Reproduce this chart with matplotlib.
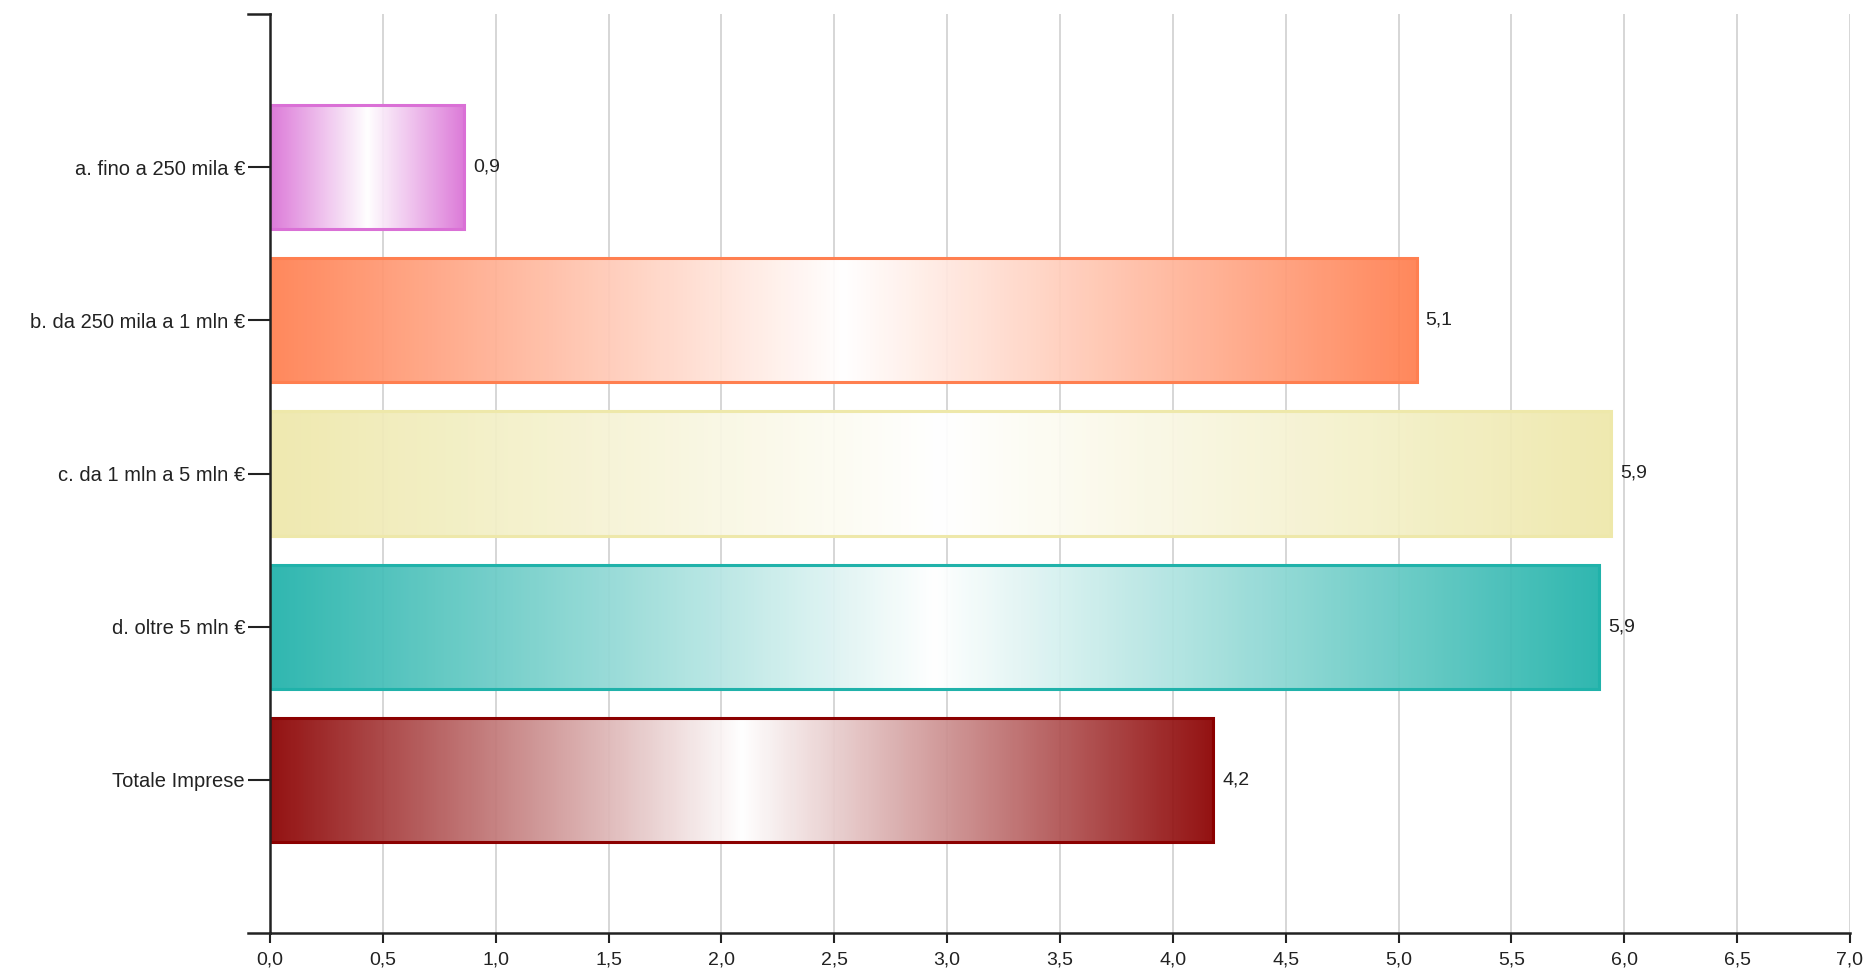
import numpy as np
import matplotlib
matplotlib.use("Agg")
import matplotlib.pyplot as plt
from matplotlib.colors import to_rgb
from matplotlib.lines import Line2D
from matplotlib.ticker import FuncFormatter, MultipleLocator

plt.rcParams['font.family'] = ['Liberation Sans', 'DejaVu Sans']

categorie = ["a. fino a 250 mila €", "b. da 250 mila a 1 mln €", "c. da 1 mln a 5 mln €",
             "d. oltre 5 mln €", "Totale Imprese"]
valori = [0.86, 5.08, 5.94, 5.89, 4.18]
colori = ["#DA70D6", "#FF7F50", "#EEE8AA", "#20B2AA", "#8B0000"]

W, H = 1868, 974
fig = plt.figure(figsize=(W / 100, H / 100), dpi=100)
x0, x1 = 270 / W, 1850 / W
y0, y1 = (H - 933) / H, (H - 14) / H
ax = fig.add_axes([x0, y0, x1 - x0, y1 - y0])

pos = np.arange(1, len(categorie) + 1)
alto = 0.81

def virgola(v, _=None):
    return f"{v:.1f}".replace(".", ",")

for p, v, c in zip(pos, valori, colori):
    rgb = np.array(to_rgb(c))
    t = np.abs(np.linspace(-1, 1, 400))
    grad = (1 - t)[:, None] * np.ones(3) + t[:, None] * rgb
    ax.imshow(grad[None, :, :], extent=[0, v, p - alto / 2, p + alto / 2],
              aspect="auto", interpolation="bilinear", alpha=0.93, zorder=2)
    ax.barh(p, v, height=alto, facecolor="none", edgecolor=c, linewidth=2.2, zorder=3)
    ax.text(v + 0.04, p, virgola(v), va="center", ha="left", fontsize=14, color="#222222")

ax.set_xlim(0, 7)
ax.set_ylim(len(categorie) + 1, 0)
ax.set_yticks(pos)
ax.set_yticklabels(categorie, fontsize=14.5, color="#222222")
ax.xaxis.set_major_locator(MultipleLocator(0.5))
ax.xaxis.set_major_formatter(FuncFormatter(virgola))
ax.tick_params(axis="x", labelsize=14, length=7, width=1.5, colors="#222222", pad=6)
ax.tick_params(axis="y", length=16, width=1.5, colors="#222222", pad=2)
ax.grid(axis="x", color="#d0d0d0", linewidth=1.2, zorder=1)
ax.set_axisbelow(True)
for s in ["top", "right"]:
    ax.spines[s].set_visible(False)
for s in ["left", "bottom"]:
    ax.spines[s].set_linewidth(1.8)
    ax.spines[s].set_color("#222222")
    ax.spines[s].set_zorder(5)

# tick esterni in stile d3 (estremi dell'asse verticale)
for yy in (y0, y1):
    fig.add_artist(Line2D([248 / W, x0], [yy, yy], transform=fig.transFigure,
                          color="#222222", linewidth=1.8))

fig.savefig("out.png", dpi=100)
